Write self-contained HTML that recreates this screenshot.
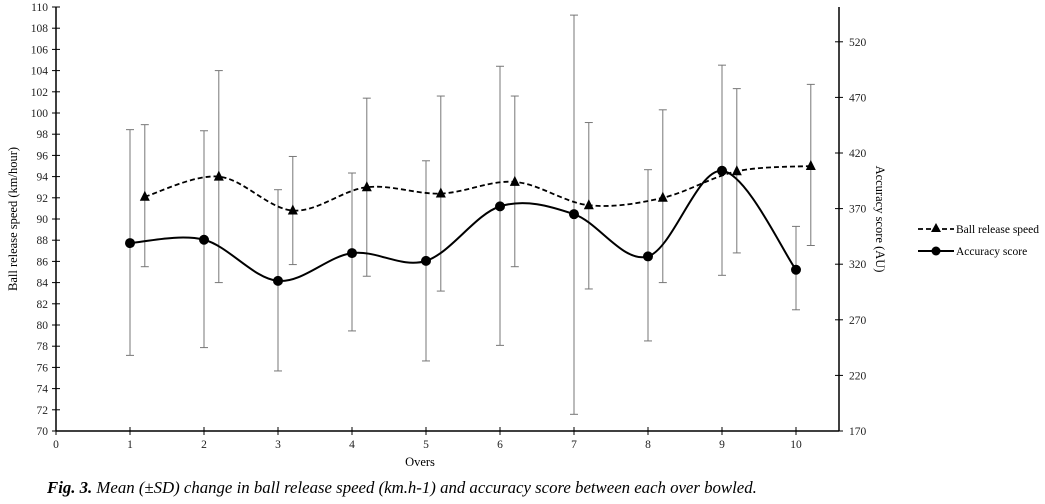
<!DOCTYPE html>
<html><head><meta charset="utf-8"><style>
body{margin:0;background:#fff;}
svg{display:block;font-family:"Liberation Serif",serif;}
</style></head><body>
<svg id="c" width="1045" height="504" viewBox="0 0 1045 504"></svg>
<script>
const overs=[1,2,3,4,5,6,7,8,9,10];
const speedMean=[92.1,94.0,90.8,93.0,92.4,93.5,91.3,92.0,94.5,95.0];
const speedLo=[85.5,84.0,85.7,84.6,83.2,85.5,83.4,84.0,86.8,87.5];
const speedHi=[98.9,104.0,95.9,101.4,101.6,101.6,99.1,100.3,102.3,102.7];
const accMean=[339,342,305,330,323,372,365,327,404,315];
const accLo=[238,245,224,260,233,247,185,251,310,279];
const accHi=[441,440,387,402,413,498,544,405,499,354];
const leftTicks=[70,72,74,76,78,80,82,84,86,88,90,92,94,96,98,100,102,104,106,108,110];
const rightTicks=[170,220,270,320,370,420,470,520];
const xTicks=[0,1,2,3,4,5,6,7,8,9,10];

const NS="http://www.w3.org/2000/svg",svg=document.getElementById('c');
const X0=56,XS=74,Y0=431,YT=7,XR=839;
const x=v=>X0+v*XS;
const yL=v=>Y0-(v-70)*(Y0-YT)/40;
const yR=v=>Y0-(v-170)*55.6/50;
function el(t,a,p){const e=document.createElementNS(NS,t);for(const k in a)e.setAttribute(k,a[k]);(p||svg).appendChild(e);return e;}
function txt(s,a){const e=el('text',a);e.textContent=s;return e;}
function smooth(pts){let d=`M${pts[0][0]},${pts[0][1]}`;for(let i=0;i<pts.length-1;i++){const p0=pts[i-1]||pts[i],p1=pts[i],p2=pts[i+1],p3=pts[i+2]||p2;
d+=` C${p1[0]+(p2[0]-p0[0])/6},${p1[1]+(p2[1]-p0[1])/6} ${p2[0]-(p3[0]-p1[0])/6},${p2[1]-(p3[1]-p1[1])/6} ${p2[0]},${p2[1]}`;}return d;}

let a=el('line',{x1:X0,y1:YT,x2:X0,y2:Y0,stroke:'#000','stroke-width':1.5});
a=el('line',{x1:X0,y1:Y0,x2:XR,y2:Y0,stroke:'#000','stroke-width':1.5});
a=el('line',{x1:XR,y1:YT,x2:XR,y2:Y0,stroke:'#000','stroke-width':1.5});
leftTicks.forEach(v=>{el('line',{x1:X0-4,x2:X0+4,y1:yL(v),y2:yL(v),stroke:'#000'});
 const t=txt(v,{x:X0-8,y:yL(v)+4,'text-anchor':'end','font-size':11.5,fill:'#222'});});
rightTicks.forEach(v=>{el('line',{x1:XR-4,x2:XR+4,y1:yR(v),y2:yR(v),stroke:'#000'});
 const t=txt(v,{x:XR+10,y:yR(v)+4,'font-size':11.5,fill:'#222'});});
xTicks.forEach(v=>{el('line',{x1:x(v),x2:x(v),y1:Y0-4,y2:Y0+4,stroke:'#000'});
 const t=txt(v,{x:x(v),y:Y0+17,'text-anchor':'middle','font-size':11.5,fill:'#222'});});
let t=txt('Overs',{x:420,y:466,'text-anchor':'middle','font-size':12.5});
t=txt('Ball release speed (km/hour)',{transform:'translate(17,219) rotate(-90)','text-anchor':'middle','font-size':12.5});
t=txt('Accuracy score (AU)',{transform:'translate(876,219) rotate(90)','text-anchor':'middle','font-size':12.5});

overs.forEach((o,i)=>{const xs=x(o+0.2);
 let e=el('line',{x1:xs,x2:xs,y1:yL(speedLo[i]),y2:yL(speedHi[i]),stroke:'#777'});
 el('line',{x1:xs-4,x2:xs+4,y1:yL(speedLo[i]),y2:yL(speedLo[i]),stroke:'#777'});el('line',{x1:xs-4,x2:xs+4,y1:yL(speedHi[i]),y2:yL(speedHi[i]),stroke:'#777'});
 const xa=x(o);
 e=el('line',{x1:xa,x2:xa,y1:yR(accLo[i]),y2:yR(accHi[i]),stroke:'#777'});
 el('line',{x1:xa-4,x2:xa+4,y1:yR(accLo[i]),y2:yR(accLo[i]),stroke:'#777'});el('line',{x1:xa-4,x2:xa+4,y1:yR(accHi[i]),y2:yR(accHi[i]),stroke:'#777'});
});
const sp=overs.map((o,i)=>[x(o+0.2),yL(speedMean[i])]);
let l=el('path',{d:smooth(sp),fill:'none',stroke:'#000','stroke-width':1.8,'stroke-dasharray':'5,3'});
const ap=overs.map((o,i)=>[x(o),yR(accMean[i])]);
l=el('path',{d:smooth(ap),fill:'none',stroke:'#000','stroke-width':2});
sp.forEach(p=>{const m=el('polygon',{points:`${p[0]},${p[1]-6} ${p[0]-5},${p[1]+4} ${p[0]+5},${p[1]+4}`,fill:'#000'});});
ap.forEach(p=>{const m=el('circle',{cx:p[0],cy:p[1],r:5,fill:'#000'});});

let g=el('g',{});
el('line',{x1:918,x2:954,y1:229,y2:229,stroke:'#000','stroke-width':1.8,'stroke-dasharray':'5,3'},g);
el('polygon',{points:'936,223 931,232 941,232',fill:'#000'},g);
let tt=el('text',{x:956,y:233,'font-size':11.5},g);tt.textContent='Ball release speed';
g=el('g',{});
el('line',{x1:918,x2:954,y1:251,y2:251,stroke:'#000','stroke-width':2},g);
el('circle',{cx:936,cy:251,r:4.5,fill:'#000'},g);
tt=el('text',{x:956,y:255,'font-size':11.5},g);tt.textContent='Accuracy score';

t=txt('',{x:47,y:493,'font-size':16.8,'font-style':'italic'});
const b=document.createElementNS(NS,'tspan');b.setAttribute('font-weight','bold');b.textContent='Fig. 3.';t.appendChild(b);
t.appendChild(document.createTextNode(' Mean (±SD) change in ball release speed (km.h-1) and accuracy score between each over bowled.'));
</script>
</body></html>
